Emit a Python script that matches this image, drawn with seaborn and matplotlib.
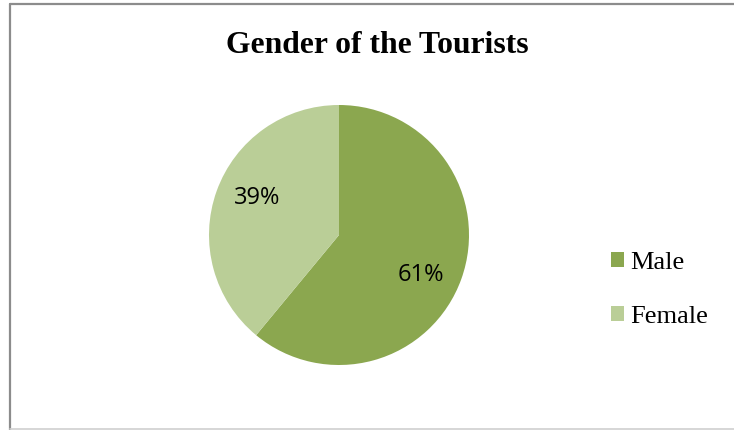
import matplotlib
matplotlib.use("Agg")
import matplotlib.pyplot as plt
import seaborn as sns
from matplotlib.patches import Patch
from matplotlib.lines import Line2D

categories = ["Male", "Female"]
values = [61, 39]
colors = ["#8BA74F", "#BACE97"]
title = "Gender of the Tourists"

sns.set_theme(style="white")
plt.rcParams['font.family'] = ['Liberation Serif', 'DejaVu Serif']
plt.rcParams['text.color'] = 'black'

W, H = 734, 430
fig = plt.figure(figsize=(W / 100, H / 100), dpi=100)
fig.patch.set_facecolor("white")

# frame lines (document border)
fig.add_artist(Line2D([10 / W, 10 / W], [0, 1 - 4 / H], color="#8c8c8c", lw=1.6, transform=fig.transFigure))
fig.add_artist(Line2D([10 / W, 1], [1 - 4 / H, 1 - 4 / H], color="#8c8c8c", lw=1.6, transform=fig.transFigure))
fig.add_artist(Line2D([10 / W, 1], [1.5 / H, 1.5 / H], color="#d0d0d0", lw=1.2, transform=fig.transFigure))

cx, cy, r = 339, 235, 130
ax = fig.add_axes([(cx - r) / W, (H - cy - r) / H, 2 * r / W, 2 * r / H])
wedges, texts, autotexts = ax.pie(
    values, colors=colors, startangle=90, counterclock=False,
    autopct=lambda p: f"{p:.0f}%", pctdistance=0.70,
    wedgeprops=dict(linewidth=0),
    textprops=dict(fontsize=17, family=['Open Sans', 'DejaVu Sans'], color="black"),
)
# Excel-like label placement
label_pos = [(0.63, -0.31), (-0.63, 0.285)]
for t, p in zip(autotexts, label_pos):
    t.set_position(p)
ax.set_aspect("equal")
ax.set_xlim(-1, 1)
ax.set_ylim(-1, 1)
ax.axis("off")

fig.text(377 / W, 1 - 53 / H, title, ha="center", va="baseline", color="black",
         fontsize=22.8, fontweight="bold", family=['Liberation Serif'])

handles = [Patch(facecolor=c, edgecolor="none") for c in colors]
leg = fig.legend(handles, categories, loc="center left",
                 bbox_to_anchor=(587 / W, 1 - 290 / H), frameon=False,
                 prop=dict(family='Liberation Serif', size=19),
                 handlelength=0.5, handleheight=0.5, handletextpad=0.25,
                 labelspacing=1.23)
for t in leg.get_texts():
    t.set_color("black")

fig.savefig("out.png", dpi=100, facecolor="white")
